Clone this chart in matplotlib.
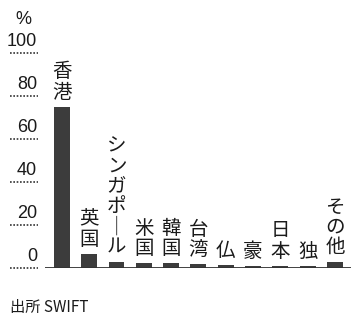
import numpy as np
import matplotlib.pyplot as plt

plt.rcParams['font.family'] = ['Noto Sans CJK JP', 'DejaVu Sans']

# share by country (%)
labels = ['香港', '英国', 'シンガポール', '米国', '韓国', '台湾', '仏', '豪', '日本', '独', 'その他']
values = [75, 6.5, 2.8, 2.3, 2.2, 1.9, 1.4, 1.0, 1.0, 0.8, 2.8]
yticks = [0, 20, 40, 60, 80, 100]

fig = plt.figure(figsize=(3.51, 3.25), dpi=100)
W, H = 351, 325
# axes: left edge at 45px, y=0 at 268px, y=100 at 53px
ax = fig.add_axes([45 / W, (H - 268) / H, (W - 45) / W, 215 / H])
ax.set_ylim(0, 100)
ax.set_xlim(-0.62, 10.59)
ax.axis('off')

x = np.arange(len(labels))
ax.bar(x, values, width=0.58, color='#3c3c3c', zorder=2)
ax.axhline(0, color='#333333', lw=1.3, zorder=3)

# stacked vertical labels above bars
for xi, v, lab in zip(x, values, labels):
    txt = '\n'.join('｜' if c == 'ー' else c for c in lab)
    ax.annotate(txt, (xi, v), xytext=(0, 3), textcoords='offset points',
                ha='center', va='bottom', fontsize=14, linespacing=0.95,
                color='#1a1a1a', annotation_clip=False)

# y tick labels with short dotted underlines
tr = ax.get_yaxis_transform()
x0, x1 = -35 / 306, -7 / 306
for t in yticks:
    ax.plot([x0, x1], [t, t], transform=tr, clip_on=False,
            color='#333333', lw=1.2, ls=(0, (1, 1)))
    ax.text(x1 - 1 / 306, t + 1.5, str(t), transform=tr, ha='right', va='bottom',
            fontsize=13, family=['Liberation Sans', 'DejaVu Sans'],
            color='#1a1a1a', clip_on=False)
ax.text(-22 / 306, 115.5, '%', transform=tr, ha='center', va='center',
        fontsize=13, family=['Liberation Sans', 'DejaVu Sans'],
        color='#1a1a1a')

fig.text(10 / W, 1 - 307 / H, '出所 SWIFT', ha='left', va='center',
         fontsize=11, color='#1a1a1a')

fig.savefig('out.png', dpi=100)
